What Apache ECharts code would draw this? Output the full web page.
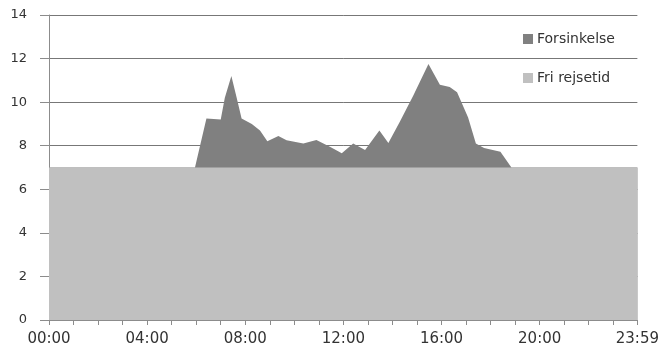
<!DOCTYPE html>
<html>
<head>
<meta charset="utf-8">
<script src="https://cdn.jsdelivr.net/npm/echarts@6/dist/echarts.min.js"></script>
<style>
  html, body { margin: 0; padding: 0; background: #fff; }
  #chart { width: 662px; height: 352px; }
</style>
</head>
<body>
<div id="chart"></div>
<script>
// Sample times over the day (HH:MM)
const times = [
  '00:00', '05:57', '06:25', '07:00', '07:10', '07:26', '07:39', '07:51',
  '08:16', '08:36', '08:54', '09:21', '09:41', '10:22', '10:54', '11:27',
  '11:56', '12:24', '12:53', '13:28', '13:50', '14:18', '14:51', '15:28',
  '15:56', '16:20', '16:38', '17:05', '17:24', '17:44', '18:24', '18:51',
  '23:59'
];
// Free-flow travel time (minutes)
const friRejsetid = [
  7, 7, 7, 7, 7, 7, 7, 7,
  7, 7, 7, 7, 7, 7, 7, 7,
  7, 7, 7, 7, 7, 7, 7, 7,
  7, 7, 7, 7, 7, 7, 7, 7,
  7
];
// Delay on top of the free-flow time (minutes)
const forsinkelse = [
  0, 0, 2.25, 2.2, 3.2, 4.2, 3.2, 2.25,
  2.0, 1.7, 1.2, 1.45, 1.25, 1.1, 1.26, 0.95,
  0.65, 1.1, 0.8, 1.7, 1.13, 2.1, 3.3, 4.75,
  3.8, 3.7, 3.45, 2.3, 1.1, 0.9, 0.72, 0,
  0
];
const yTicks = [0, 2, 4, 6, 8, 10, 12, 14];
const xLabelTimes = ['00:00', '04:00', '08:00', '12:00', '16:00', '20:00', '23:59'];

function toMinutes(s) {
  const p = s.split(':');
  return +p[0] * 60 + +p[1];
}
function toLabel(m) {
  const h = Math.floor(m / 60), mm = m % 60;
  return String(h).padStart(2, '0') + ':' + String(mm).padStart(2, '0');
}
const xs = times.map(toMinutes);
const labelSet = new Set(xLabelTimes.map(toMinutes));

// Stacked by hand: the delay area sits on top of the free-flow time
const totalTime = xs.map((x, i) => [x, friRejsetid[i] + forsinkelse[i]]);
const baseTime = xs.map((x, i) => [x, friRejsetid[i]]);

const chart = echarts.init(document.getElementById('chart'), null, { renderer: 'canvas' });
chart.setOption({
  animation: false,
  backgroundColor: '#ffffff',
  grid: { left: 49, right: 24, top: 15, bottom: 32, containLabel: false },
  legend: {
    data: ['Forsinkelse', 'Fri rejsetid'],
    orient: 'vertical',
    left: 518,
    top: 27,
    itemWidth: 10,
    itemHeight: 10,
    itemGap: 25,
    icon: 'rect',
    textStyle: { fontFamily: 'DejaVu Sans', fontSize: 14, color: '#333333', padding: [0, 0, 0, -1] }
  },
  xAxis: {
    type: 'value',
    min: 0,
    max: 1439,
    interval: 60,
    axisLine: { show: true, lineStyle: { color: '#8c8c8c', width: 1 } },
    axisTick: { show: true, length: 5, lineStyle: { color: '#8c8c8c' } },
    splitLine: { show: false },
    axisLabel: {
      showMinLabel: true,
      showMaxLabel: true,
      margin: 12,
      fontFamily: 'DejaVu Sans',
      fontSize: 15,
      color: '#333333',
      formatter: function (v) { return labelSet.has(v) ? toLabel(v) : ''; }
    }
  },
  yAxis: {
    type: 'value',
    min: yTicks[0],
    max: yTicks[yTicks.length - 1],
    interval: 2,
    axisLine: { show: true, lineStyle: { color: '#8c8c8c', width: 1 } },
    axisTick: { show: true, length: 9, lineStyle: { color: '#8c8c8c' } },
    splitLine: { show: true, lineStyle: { color: '#777777', width: 1 } },
    axisLabel: {
      margin: 22,
      fontFamily: 'DejaVu Sans',
      fontSize: 13,
      color: '#333333'
    }
  },
  series: [
    {
      name: 'Forsinkelse',
      type: 'line',
      symbol: 'none',
      lineStyle: { width: 0 },
      itemStyle: { color: '#808080' },
      areaStyle: { color: '#808080', opacity: 1 },
      data: totalTime
    },
    {
      name: 'Fri rejsetid',
      type: 'line',
      symbol: 'none',
      lineStyle: { width: 0 },
      itemStyle: { color: '#c0c0c0' },
      areaStyle: { color: '#c0c0c0', opacity: 1 },
      data: baseTime
    }
  ]
});
</script>
</body>
</html>
